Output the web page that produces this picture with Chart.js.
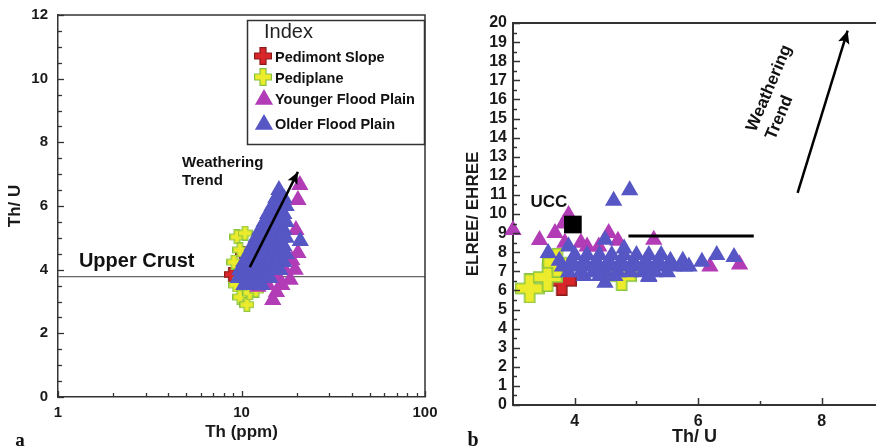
<!DOCTYPE html>
<html><head><meta charset="utf-8">
<script src="https://cdn.jsdelivr.net/npm/chart.js@4.4.1/dist/chart.umd.min.js"></script>
<style>
html,body{margin:0;padding:0;background:#fff;}
#wrap{position:relative;width:876px;height:448px;overflow:hidden;background:#fff;}
#ca{position:absolute;left:0;top:0;}
#cb{position:absolute;left:440px;top:0;}
</style></head><body>
<div id="wrap"><canvas id="ca" width="440" height="448"></canvas><canvas id="cb" width="436" height="448"></canvas></div>
<script>
// ===== Panel a: Th (ppm) vs Th/U =====
const A_PED_TH  = [8.8, 10.1];
const A_PED_THU = [3.85, 4.5];
const A_PDP_TH  = [9.45, 10.45, 9.8, 9.1, 9.3, 9.8, 10.7, 11.1, 12.0, 10.45];
const A_PDP_THU = [5.03, 5.15, 4.62, 4.24, 3.52, 3.14, 2.9, 3.27, 3.36, 3.68];
const A_YFP_TH  = [20.8, 20.3, 19.8, 20.3, 18.8, 17.2, 19.6, 15.8, 18.4, 16.6, 13.9, 12.3, 14.8, 15.5];
const A_YFP_THU = [6.66, 6.19, 5.25, 4.52, 4.3, 3.99, 4.0, 3.77, 3.68, 3.52, 3.52, 3.46, 3.05, 3.3];
const A_OFP_TH  = [16.0,
                   15.4, 17.0,
                   14.7, 16.2, 17.5,
                   13.9, 15.4, 17.0,
                   13.3, 14.7, 16.2, 17.5,
                   12.6, 13.9, 15.4, 17.0,
                   12.0, 13.3, 14.7, 16.2, 17.5,
                   11.4, 12.6, 13.9, 15.4, 17.0,
                   10.85, 12.0, 13.3, 14.7, 16.2, 17.5,
                   10.3, 11.4, 12.6, 13.9, 15.4, 17.0,
                   9.8, 10.85, 12.0, 13.3, 14.7, 16.2,
                   9.6, 10.6, 11.7, 12.9, 14.3,
                   10.3, 11.4, 12.9,
                   20.9];
const A_OFP_THU = [6.5,
                   6.25, 6.25,
                   6.0, 6.0, 6.0,
                   5.75, 5.75, 5.75,
                   5.5, 5.5, 5.5, 5.5,
                   5.25, 5.25, 5.25, 5.25,
                   5.0, 5.0, 5.0, 5.0, 5.0,
                   4.74, 4.74, 4.74, 4.74, 4.74,
                   4.49, 4.49, 4.49, 4.49, 4.49, 4.49,
                   4.24, 4.24, 4.24, 4.24, 4.24, 4.24,
                   3.99, 3.99, 3.99, 3.99, 3.99, 3.99,
                   3.74, 3.74, 3.74, 3.74, 3.74,
                   3.52, 3.52, 3.52,
                   4.9];
const A_UCRUST_TH  = [1, 100];
const A_UCRUST_THU = [3.78, 3.78];
const A_TREND_TH  = [11.1, 20.3];
const A_TREND_THU = [4.08, 7.07];
const A_X_TICKS = [1, 10, 100];
const A_Y_TICKS = [0, 2, 4, 6, 8, 10, 12];

// ===== Panel b: Th/U vs ELREE/EHREE =====
const B_PED_THU = [3.79];
const B_PED_LH  = [6.5];
const B_PDP_THU = [3.27, 3.56, 3.72, 4.76];
const B_PDP_LH  = [6.1, 6.7, 7.45, 6.75];
const B_YFP_THU = [3.0, 3.43, 3.68, 3.82, 3.9, 3.84, 4.1, 4.2, 4.39, 4.7, 4.55, 5.28, 6.19, 6.67];
const B_YFP_LH  = [9.16, 8.64, 9.0, 9.5, 9.95, 8.5, 8.5, 8.3, 8.3, 8.6, 9.0, 8.65, 7.25, 7.35];
const B_OFP_THU = [4.89, 4.63, 4.49, 3.57, 3.9, 4.8, 6.3, 6.58, 6.06, 5.78, 4.49, 5.2,
                   4.0, 4.2, 4.4, 4.6, 4.8, 5.0, 5.2, 5.4,
                   3.75, 3.95, 4.15, 4.35, 4.55, 4.75, 4.95, 5.15, 5.35, 5.55, 5.75,
                   3.8, 4.0, 4.2, 4.4, 4.6, 4.8, 5.0, 5.2, 5.4, 5.6, 5.85,
                   3.9, 4.1, 4.3, 4.5, 4.7, 4.9, 5.1, 5.3, 5.5,
                   4.15, 4.4, 4.65, 5.2];
const B_OFP_LH  = [11.25, 10.7, 8.65, 7.96, 8.3, 8.2, 7.85, 7.75, 7.5, 7.25, 6.4, 6.7,
                   7.85, 7.85, 7.85, 7.85, 7.85, 7.85, 7.85, 7.85,
                   7.55, 7.55, 7.55, 7.55, 7.55, 7.55, 7.55, 7.55, 7.55, 7.55, 7.55,
                   7.25, 7.25, 7.25, 7.25, 7.25, 7.25, 7.25, 7.25, 7.25, 7.25, 7.25,
                   6.95, 6.95, 6.95, 6.95, 6.95, 6.95, 6.95, 6.95, 6.95,
                   6.75, 6.75, 6.75, 6.75];
const B_UCC_THU = [3.97];
const B_UCC_LH  = [9.45];
const B_BAR_THU = [4.87, 6.9];
const B_BAR_LH  = [8.85, 8.85];
const B_TREND_THU = [7.61, 8.42];
const B_TREND_LH  = [11.1, 19.6];
const B_X_TICKS = [4, 6, 8];
const B_Y_TICKS = [0,1,2,3,4,5,6,7,8,9,10,11,12,13,14,15,16,17,18,19,20];

const SERIES = ['Pedimont Slope', 'Pediplane', 'Younger Flood Plain', 'Older Flood Plain'];

// ===== styles =====
const RED = '#d8262a', RED_EDGE = '#8a1a1a';
const YEL = '#ecec2c', YEL_EDGE = '#86c440';
const PUR = '#b23cb6', BLU = '#5656c4';
const AXIS = '#333';
const SANS = '"Liberation Sans", Arial, sans-serif';

function pts(xs, ys) { return xs.map((x, i) => ({x: x, y: ys[i]})); }

function makeCross(size, arm, fill, stroke, lw) {
  const c = document.createElement('canvas'); c.width = size; c.height = size;
  const g = c.getContext('2d');
  const p = lw / 2, a = (size - arm) / 2, b = a + arm, s = size;
  g.beginPath();
  g.moveTo(a, p); g.lineTo(b, p); g.lineTo(b, a); g.lineTo(s - p, a); g.lineTo(s - p, b);
  g.lineTo(b, b); g.lineTo(b, s - p); g.lineTo(a, s - p); g.lineTo(a, b); g.lineTo(p, b);
  g.lineTo(p, a); g.lineTo(a, a); g.closePath();
  g.fillStyle = fill; g.fill();
  g.lineWidth = lw; g.strokeStyle = stroke; g.stroke();
  return c;
}
const crossRedA = makeCross(15, 5.5, RED, RED_EDGE, 1.2);
const crossYelA = makeCross(15, 5.5, YEL, YEL_EDGE, 1.2);
const crossRedL = makeCross(18, 6, RED, RED_EDGE, 1.2);
const crossYelL = makeCross(18, 6, YEL, YEL_EDGE, 1.2);
const crossRedB = makeCross(30, 10, RED, RED_EDGE, 1.5);
const crossYelB = makeCross(30, 10, YEL, YEL_EDGE, 1.5);

function halfSteps(lo, hi, step, skip) {
  const out = [];
  for (let v = lo; v <= hi + 1e-9; v += step) { if (!skip.some(s => Math.abs(s - v) < 1e-9)) out.push(+v.toFixed(4)); }
  return out;
}

// ===== plugins =====
const innerTicks = {
  id: 'innerTicks',
  afterDatasetsDraw(chart, args, o) {
    const ctx = chart.ctx, ca = chart.chartArea, xs = chart.scales.x, ys = chart.scales.y;
    ctx.save(); ctx.strokeStyle = AXIS; ctx.lineWidth = o.width || 1.5;
    const dx = (vals, len) => vals.forEach(v => { const px = Math.round(xs.getPixelForValue(v)) + 0.5; ctx.beginPath(); ctx.moveTo(px, ca.bottom); ctx.lineTo(px, ca.bottom - len); ctx.stroke(); });
    const dy = (vals, len) => vals.forEach(v => { const py = Math.round(ys.getPixelForValue(v)) + 0.5; ctx.beginPath(); ctx.moveTo(ca.left, py); ctx.lineTo(ca.left + len, py); ctx.stroke(); });
    dx(o.xMajor, o.majorLen); dx(o.xMinor, o.minorLen);
    dy(o.yMajor, o.majorLen); dy(o.yMinor, o.minorLen);
    ctx.restore();
  }
};
const frame = {
  id: 'frame',
  afterDraw(chart, args, o) {
    const ctx = chart.ctx, ca = chart.chartArea;
    ctx.save(); ctx.strokeStyle = AXIS; ctx.lineWidth = o.width;
    ctx.beginPath();
    if (o.box) { ctx.moveTo(ca.left, ca.top); ctx.lineTo(ca.right, ca.top); ctx.lineTo(ca.right, ca.bottom); }
    else { ctx.moveTo(ca.left, ca.top); ctx.lineTo(chart.width, ca.top); }
    ctx.stroke(); ctx.restore();
  }
};
const arrowHeads = {
  id: 'arrowHeads',
  afterDatasetsDraw(chart, args, o) {
    const ctx = chart.ctx, xs = chart.scales.x, ys = chart.scales.y;
    o.items.forEach(it => {
      const n = it.xs.length;
      const x1 = xs.getPixelForValue(it.xs[n - 2]), y1 = ys.getPixelForValue(it.ys[n - 2]);
      const x2 = xs.getPixelForValue(it.xs[n - 1]), y2 = ys.getPixelForValue(it.ys[n - 1]);
      const ang = Math.atan2(y2 - y1, x2 - x1), L = it.size, W = it.size * 0.45;
      ctx.save(); ctx.fillStyle = '#000'; ctx.translate(x2, y2); ctx.rotate(ang);
      ctx.beginPath(); ctx.moveTo(0, 0); ctx.lineTo(-L, -W); ctx.lineTo(-L * 0.8, 0); ctx.lineTo(-L, W); ctx.closePath(); ctx.fill();
      ctx.restore();
    });
  }
};
const labels = {
  id: 'labels',
  afterDraw(chart, args, o) {
    const ctx = chart.ctx, xs = chart.scales.x, ys = chart.scales.y;
    o.items.forEach(it => {
      const px = it.px !== undefined ? it.px : xs.getPixelForValue(it.x);
      const py = it.py !== undefined ? it.py : ys.getPixelForValue(it.y);
      ctx.save(); ctx.translate(px, py); if (it.rot) ctx.rotate(it.rot * Math.PI / 180);
      ctx.font = it.font; ctx.fillStyle = it.color || '#111';
      ctx.textAlign = it.align || 'left'; ctx.textBaseline = it.base || 'alphabetic';
      ctx.fillText(it.text, 0, 0); ctx.restore();
    });
  }
};
const indexBox = {
  id: 'indexBox',
  afterDraw(chart, args, o) {
    const ctx = chart.ctx, ca = chart.chartArea;
    const L = 247, T = ca.top + 5, R = ca.right, B = 145;
    ctx.save();
    ctx.fillStyle = '#fff'; ctx.fillRect(L, T, R - L, B - T);
    ctx.strokeStyle = AXIS; ctx.lineWidth = 1.5; ctx.strokeRect(L + 0.5, T + 0.5, R - L - 1, B - T - 1);
    ctx.fillStyle = '#222'; ctx.font = '20px ' + SANS; ctx.textBaseline = 'alphabetic'; ctx.textAlign = 'left';
    ctx.fillText('Index', 264, 38);
    const rows = [
      {y: 56, mk: crossRedL},
      {y: 77, mk: crossYelL},
      {y: 98, tri: PUR},
      {y: 123, tri: BLU}
    ];
    rows.forEach((r, i) => {
      if (r.mk) ctx.drawImage(r.mk, 263 - r.mk.width / 2, r.y - r.mk.height / 2);
      if (r.tri) { ctx.fillStyle = r.tri; ctx.strokeStyle = r.tri; Chart.helpers.drawPoint(ctx, {pointStyle: 'triangle', radius: 10.5, borderWidth: 0, rotation: 0}, 264, r.y + 1.5); }
      ctx.fillStyle = '#111'; ctx.font = 'bold 14.5px ' + SANS;
      ctx.fillText(SERIES[i], 275, r.y + 6);
    });
    ctx.restore();
  }
};

function fixX(h) { return s => { s.height = h; s.paddingLeft = 0; s.paddingRight = 0; }; }
function fixY(w) { return s => { s.width = w; s.paddingTop = 0; s.paddingBottom = 0; }; }

// ===== Panel a =====
new Chart(document.getElementById('ca'), {
  type: 'scatter',
  data: {datasets: [
    {label: 'Weathering Trend', data: pts(A_TREND_TH, A_TREND_THU), showLine: true, pointRadius: 0, borderColor: '#000', borderWidth: 2.5, order: 0},
    {label: SERIES[3], data: pts(A_OFP_TH, A_OFP_THU), pointStyle: 'triangle', pointRadius: 10, backgroundColor: BLU, borderColor: BLU, borderWidth: 0, order: 1},
    {label: SERIES[2], data: pts(A_YFP_TH, A_YFP_THU), pointStyle: 'triangle', pointRadius: 10, backgroundColor: PUR, borderColor: PUR, borderWidth: 0, order: 2},
    {label: SERIES[1], data: pts(A_PDP_TH, A_PDP_THU), pointStyle: crossYelA, pointRadius: 5, order: 3},
    {label: SERIES[0], data: pts(A_PED_TH, A_PED_THU), pointStyle: crossRedA, pointRadius: 5, order: 4},
    {label: 'Upper Crust', data: pts(A_UCRUST_TH, A_UCRUST_THU), showLine: true, pointRadius: 0, borderColor: '#666', borderWidth: 1.2, order: 5}
  ]},
  plugins: [innerTicks, frame, arrowHeads, labels, indexBox],
  options: {
    responsive: false, animation: false, devicePixelRatio: 1,
    layout: {autoPadding: false, padding: {left: 0, top: 15, right: 15, bottom: 0}},
    plugins: {
      legend: {display: false}, tooltip: {enabled: false},
      innerTicks: {xMajor: A_X_TICKS, xMinor: [2,3,4,5,6,7,8,9,20,30,40,50,60,70,80,90], yMajor: A_Y_TICKS, yMinor: halfSteps(0, 12, 0.5, A_Y_TICKS), majorLen: 6, minorLen: 4, width: 1.3},
      frame: {box: true, width: 1.5},
      arrowHeads: {items: [{xs: A_TREND_TH, ys: A_TREND_THU, size: 12}]},
      labels: {items: [
        {text: 'Weathering', x: 4.74, y: 7.35, font: 'bold 15px ' + SANS, base: 'middle'},
        {text: 'Trend', x: 4.74, y: 6.79, font: 'bold 15px ' + SANS, base: 'middle'},
        {text: 'Upper Crust', x: 1.30, y: 4.08, font: 'bold 20px ' + SANS},
        {text: 'a', px: 20, py: 446, font: 'bold 19px "Liberation Serif", serif', align: 'center'}
      ]}
    },
    scales: {
      x: {type: 'logarithmic', min: 1, max: 100,
        afterBuildTicks: s => { s.ticks = A_X_TICKS.map(v => ({value: v})); },
        afterFit: fixX(51),
        grid: {display: false, drawTicks: false}, border: {display: true, color: AXIS, width: 1.5},
        ticks: {font: {family: SANS, size: 15, weight: 'bold'}, color: '#1a1a1a', padding: 7, autoSkip: false, maxRotation: 0, callback: v => String(v)},
        title: {display: true, text: 'Th (ppm)', font: {family: SANS, size: 17, weight: 'bold'}, color: '#1a1a1a', padding: {top: 0, bottom: 5}}
      },
      y: {type: 'linear', min: 0, max: 12,
        afterBuildTicks: s => { s.ticks = A_Y_TICKS.map(v => ({value: v})); },
        afterFit: fixY(58),
        grid: {display: false, drawTicks: false}, border: {display: true, color: AXIS, width: 1.5},
        ticks: {font: {family: SANS, size: 15, weight: 'bold'}, color: '#1a1a1a', padding: 10, autoSkip: false},
        title: {display: true, text: 'Th/ U', font: {family: SANS, size: 17, weight: 'bold'}, color: '#1a1a1a', padding: {top: 5, bottom: 0}}
      }
    }
  }
});

// ===== Panel b =====
new Chart(document.getElementById('cb'), {
  type: 'scatter',
  data: {datasets: [
    {label: 'Weathering Trend', data: pts(B_TREND_THU, B_TREND_LH), showLine: true, pointRadius: 0, borderColor: '#000', borderWidth: 2.5, order: 0},
    {label: 'Reference line', data: pts(B_BAR_THU, B_BAR_LH), showLine: true, pointRadius: 0, borderColor: '#000', borderWidth: 3, order: 0},
    {label: 'UCC', data: pts(B_UCC_THU, B_UCC_LH), pointStyle: 'rect', pointRadius: 12.5, backgroundColor: '#000', borderWidth: 0, order: 0},
    {label: SERIES[3], data: pts(B_OFP_THU, B_OFP_LH), pointStyle: 'triangle', pointRadius: 10, backgroundColor: BLU, borderColor: BLU, borderWidth: 0, order: 1},
    {label: SERIES[2], data: pts(B_YFP_THU, B_YFP_LH), pointStyle: 'triangle', pointRadius: 10, backgroundColor: PUR, borderColor: PUR, borderWidth: 0, order: 2, clip: false},
    {label: SERIES[1], data: pts(B_PDP_THU, B_PDP_LH), pointStyle: crossYelB, pointRadius: 5, order: 3, clip: false},
    {label: SERIES[0], data: pts(B_PED_THU, B_PED_LH), pointStyle: crossRedB, pointRadius: 5, order: 4}
  ]},
  plugins: [innerTicks, frame, arrowHeads, labels],
  options: {
    responsive: false, animation: false, devicePixelRatio: 1,
    layout: {autoPadding: false, padding: {left: 0, top: 23, right: 0, bottom: 0}},
    plugins: {
      legend: {display: false}, tooltip: {enabled: false},
      innerTicks: {xMajor: B_X_TICKS, xMinor: [5, 7], yMajor: B_Y_TICKS, yMinor: halfSteps(0.5, 19.5, 1, []), majorLen: 7, minorLen: 4, width: 1.5},
      frame: {box: false, width: 2},
      arrowHeads: {items: [{xs: B_TREND_THU, ys: B_TREND_LH, size: 13}]},
      labels: {items: [
        {text: 'UCC', x: 3.58, y: 10.37, font: 'bold 17px ' + SANS, align: 'center'},
        {text: 'Weathering', x: 6.86, y: 14.36, font: 'bold 17px ' + SANS, base: 'middle', rot: -67},
        {text: 'Trend', x: 7.17, y: 13.93, font: 'bold 17px ' + SANS, base: 'middle', rot: -67},
        {text: 'b', px: 33, py: 446, font: 'bold 20px "Liberation Serif", serif', align: 'center'}
      ]}
    },
    scales: {
      x: {type: 'linear', min: 3, max: 8.88,
        afterBuildTicks: s => { s.ticks = B_X_TICKS.map(v => ({value: v})); },
        afterFit: fixX(43),
        grid: {display: false, drawTicks: false}, border: {display: true, color: AXIS, width: 2},
        ticks: {font: {family: SANS, size: 16, weight: 'bold'}, color: '#1a1a1a', padding: 7, autoSkip: false, maxRotation: 0},
        title: {display: true, text: 'Th/ U', font: {family: SANS, size: 18, weight: 'bold'}, color: '#1a1a1a', padding: {top: 0, bottom: 0}}
      },
      y: {type: 'linear', min: 0, max: 20,
        afterBuildTicks: s => { s.ticks = B_Y_TICKS.map(v => ({value: v})); },
        afterFit: fixY(73),
        grid: {display: false, drawTicks: false}, border: {display: true, color: AXIS, width: 2},
        ticks: {font: {family: SANS, size: 16, weight: 'bold'}, color: '#1a1a1a', padding: 6, autoSkip: false},
        title: {display: true, text: 'ELREE/ EHREE', font: {family: SANS, size: 17, weight: 'bold'}, color: '#1a1a1a', padding: {top: 23, bottom: 0}}
      }
    }
  }
});
</script>
</body></html>
